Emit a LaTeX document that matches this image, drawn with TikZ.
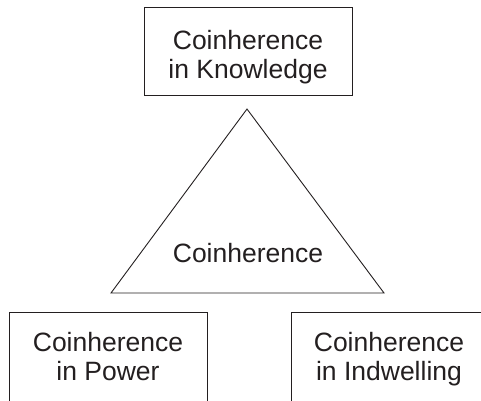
\documentclass[tikz,border=0pt]{standalone}
\usepackage{fontspec}
\setmainfont{Liberation Sans}
\definecolor{ink}{HTML}{231F20}
\begin{document}
\begin{tikzpicture}[x=1pt,y=-1pt,
  box/.style={draw=ink, line width=0.9pt, rectangle, inner sep=0pt},
  lbl/.style={text=ink, inner sep=0pt, anchor=base, font=\fontsize{26.5}{30}\selectfont},
  edge/.style={draw=ink, line width=0.9pt, line join=miter}]
\useasboundingbox (0,0) rectangle (481,400);
\clip (0,0) rectangle (481,400);
% boxes
\node[box, minimum width=208pt, minimum height=88pt] (know) at (248,51) {};
\node[box, minimum width=198pt, minimum height=110pt] (power) at (108,367) {};
\node[box, minimum width=200pt, minimum height=110pt] (indw) at (391,367) {};
% triangle
\coordinate (apex) at (247,109);
\coordinate (bl) at (111,293);
\coordinate (br) at (384,293);
\draw[edge] (apex) -- (bl) -- (br) -- cycle;
% texts
\node[lbl] (k1) at (248,49) {Coinherence};
\node[lbl] (k2) at (248,78) {in Knowledge};
\node[lbl] (c) at (248,262) {Coinherence};
\node[lbl] (p1) at (108,351) {Coinherence};
\node[lbl] (p2) at (108,380) {in Power};
\node[lbl] (i1) at (389,351) {Coinherence};
\node[lbl] (i2) at (389,380) {in Indwelling};
\end{tikzpicture}
\end{document}
